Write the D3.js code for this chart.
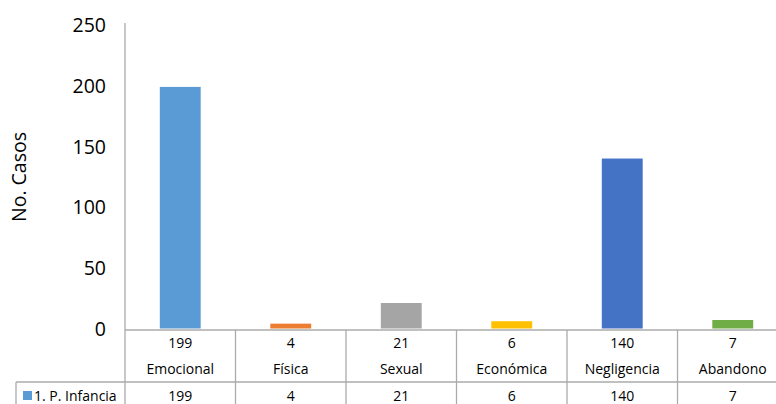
<!DOCTYPE html>
<html>
<head>
<meta charset="utf-8">
<script src="https://cdn.jsdelivr.net/npm/d3@7"></script>
<style>
  body { margin: 0; background: #fff; }
  svg text { font-family: "Open Sans", sans-serif; fill: #000; }
</style>
</head>
<body>
<div id="chart"></div>
<script>
// data
var categories = ["Emocional", "Física", "Sexual", "Económica", "Negligencia", "Abandono"];
var casos = [199, 4, 21, 6, 140, 7];
var colores = ["#5B9BD5", "#ED7D31", "#A5A5A5", "#FFC000", "#4472C4", "#70AD47"];
var serieName = "1. P. Infancia";
var yTicks = [0, 50, 100, 150, 200, 250];

var width = 776, height = 404;
var plotLeft = 125, plotRight = 788, plotTop = 25, plotBottom = 328.5;
var axisY = 330;
var tableLine = 382;
var gridColor = "#ABABAB";

var svg = d3.select("#chart").append("svg")
  .attr("width", width)
  .attr("height", height);

var xScale = d3.scaleBand().domain(categories).range([plotLeft, plotRight]).padding(0);
var yScale = d3.scaleLinear().domain([0, 250]).range([plotBottom, plotTop]);

var barW = xScale.bandwidth() * 0.37;

// y axis labels
var yAxis = d3.axisLeft(yScale).tickValues(yTicks).tickSize(0).tickPadding(19);
var yG = svg.append("g")
  .attr("transform", "translate(" + plotLeft + ",0)")
  .call(yAxis);
yG.select(".domain").remove();
yG.selectAll("text")
  .style("font-size", "19.5px")
  .style("font-family", "'Open Sans', sans-serif")
  .attr("dy", "0.35em");

// y title
svg.append("text")
  .attr("transform", "translate(26,177)rotate(-90)")
  .attr("text-anchor", "middle")
  .style("font-size", "19.5px")
  .text("No. Casos");

// bars
svg.selectAll("rect.bar")
  .data(casos)
  .enter()
  .append("rect")
  .attr("class", "bar")
  .attr("x", function(d, i) { return xScale(categories[i]) + (xScale.bandwidth() - barW) / 2; })
  .attr("y", function(d) { return yScale(d); })
  .attr("width", barW)
  .attr("height", function(d) { return plotBottom - yScale(d); })
  .attr("fill", function(d, i) { return colores[i]; });

// axis + table lines
svg.append("line")
  .attr("x1", plotLeft).attr("x2", plotLeft)
  .attr("y1", 23).attr("y2", height)
  .attr("stroke", gridColor).attr("stroke-width", 1.3);
svg.append("line")
  .attr("x1", plotLeft).attr("x2", width)
  .attr("y1", axisY).attr("y2", axisY)
  .attr("stroke", gridColor).attr("stroke-width", 1.3);
svg.append("line")
  .attr("x1", 16).attr("x2", width)
  .attr("y1", tableLine).attr("y2", tableLine)
  .attr("stroke", gridColor).attr("stroke-width", 1.3);
svg.append("line")
  .attr("x1", 16).attr("x2", 16)
  .attr("y1", tableLine).attr("y2", height)
  .attr("stroke", gridColor).attr("stroke-width", 1.3);

svg.selectAll("line.col")
  .data(categories.slice(1))
  .enter()
  .append("line")
  .attr("class", "col")
  .attr("x1", function(d) { return xScale(d); })
  .attr("x2", function(d) { return xScale(d); })
  .attr("y1", axisY).attr("y2", height)
  .attr("stroke", gridColor).attr("stroke-width", 1.3);

// table text
var cells = svg.selectAll("g.cell")
  .data(categories)
  .enter()
  .append("g")
  .attr("class", "cell")
  .attr("transform", function(d) { return "translate(" + (xScale(d) + xScale.bandwidth() / 2) + ",0)"; });

cells.append("text")
  .attr("y", 348)
  .attr("text-anchor", "middle")
  .style("font-size", "14px")
  .text(function(d, i) { return casos[i]; });
cells.append("text")
  .attr("y", 374)
  .attr("text-anchor", "middle")
  .style("font-size", "14px")
  .text(function(d) { return d; });
cells.append("text")
  .attr("y", 401)
  .attr("text-anchor", "middle")
  .style("font-size", "14px")
  .text(function(d, i) { return casos[i]; });

// legend cell
svg.append("rect")
  .attr("x", 23).attr("y", 391)
  .attr("width", 9).attr("height", 9)
  .attr("fill", colores[0]);
svg.append("text")
  .attr("x", 34).attr("y", 401)
  .style("font-size", "14px")
  .text(serieName);
</script>
</body>
</html>
